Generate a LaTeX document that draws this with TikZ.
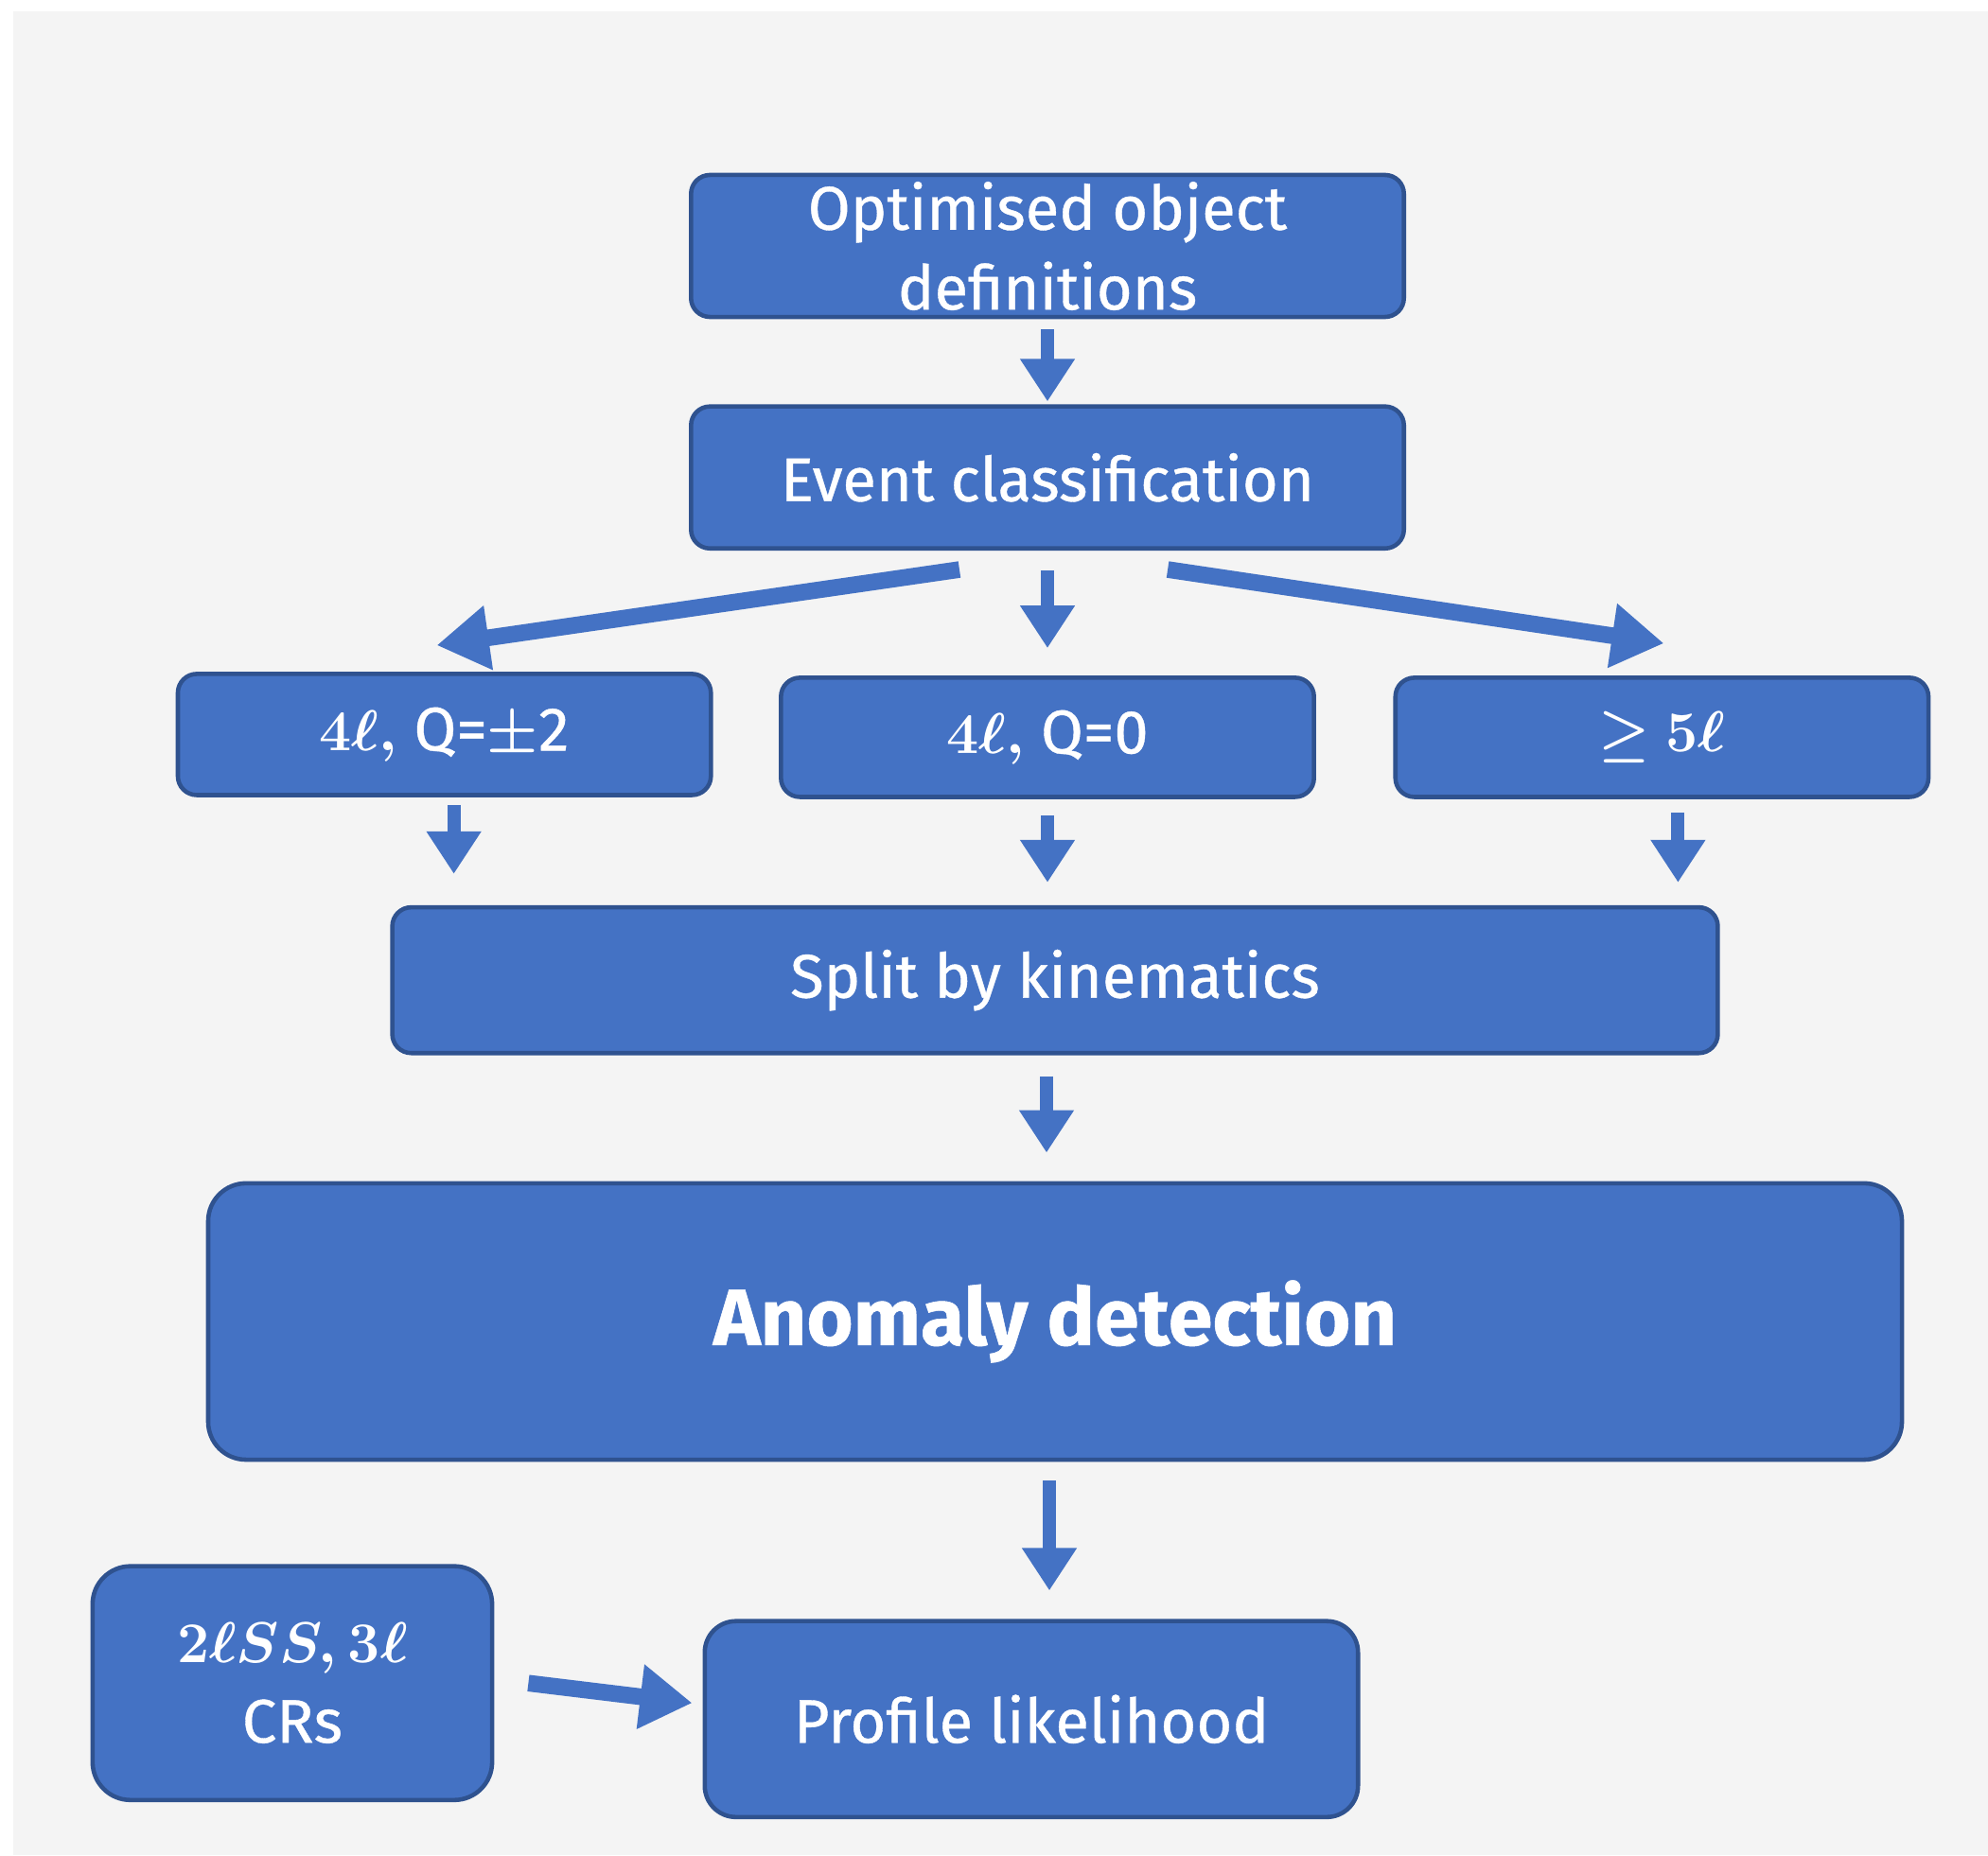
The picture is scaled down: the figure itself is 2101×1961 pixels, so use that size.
\documentclass[tikz,border=0pt]{standalone}
\usepackage{fontspec}
\setmainfont{Fira Sans}[FakeBold=0.6]
\usepackage{tikz}
\usetikzlibrary{arrows.meta,positioning}
\definecolor{Office}{HTML}{4472C4}
\definecolor{Rim}{HTML}{2F528F}
\definecolor{Canvas}{HTML}{F4F4F4}
\tikzset{
 block/.style={draw=Rim,fill=Office,line width=1.3pt,rounded corners=2mm,align=center,
   text=white,font=\fontsize{18.5}{24}\selectfont\boldmath,inner sep=0pt},
 big/.style={block,rounded corners=4mm,font=\fontsize{24}{28}\selectfont\bfseries},
 arr/.style={-{Triangle[length=4.5mm,width=5.5mm]},line width=4pt,draw=Office},
 wide/.style={arr,-{Triangle[length=5.5mm,width=6.5mm]},line width=5pt}
}

\begin{document}
\begin{tikzpicture}[x=0.01cm,y=-0.01cm,node distance=9mm]
\fill[Canvas] (14,12) rectangle (2101,1961);
\useasboundingbox (0,0) rectangle (2101,1961);
\node[block,minimum width=7.53cm,minimum height=1.5cm] (a) at (1107,260) {Optimised object\\definitions};
\node[block,minimum width=7.53cm,minimum height=1.5cm,below=of a] (b) {Event classification};
\node[block,minimum width=5.63cm,minimum height=1.28cm,below=1.28cm of b.south,xshift=-6.37cm] (c) {$4\ell,$ Q=$\pm$2};
\node[block,minimum width=5.63cm,minimum height=1.26cm,below=1.32cm of b] (d) {$4\ell,$ Q=0};
\node[block,minimum width=5.63cm,minimum height=1.26cm,below=1.32cm of b.south,xshift=6.49cm] (e) {$\geq$ $5\ell$};
\node[block,minimum width=14cm,minimum height=1.54cm,below=1.12cm of d.south,xshift=0.08cm] (f) {Split by kinematics};
\node[big,minimum width=17.89cm,minimum height=2.92cm,below=1.33cm of f] (g) {Anomaly detection};
\node[block,rounded corners=3.3mm,minimum width=6.9cm,minimum height=2.07cm,below=1.66cm of g.south,xshift=-0.25cm] (h) {Profile likelihood};
\node[block,rounded corners=4mm,minimum width=4.22cm,minimum height=2.47cm,left=2.2cm of h.west,yshift=0.38cm] (i) {$2\ell SS, 3\ell$\\CRs};
\draw[arr,shorten <=1.1mm,shorten >=0.3mm] (a)--(b);
\draw[wide] ([xshift=-9.3mm,yshift=-2mm]b.south)--([xshift=-0.8mm,yshift=2.8mm]c.north);
\draw[arr] ([yshift=-2.1mm]b.south)--([yshift=2.9mm]d.north);
\draw[wide] ([xshift=12.7mm,yshift=-2mm]b.south)--([xshift=0.2mm,yshift=3.4mm]e.north);
\draw[arr] ([xshift=1mm,yshift=-0.8mm]c.south)--([xshift=1mm,yshift=3.3mm]c.south |- f.north);
\draw[arr] ([yshift=-1.7mm]d.south)--([yshift=2.4mm]d.south |- f.north);
\draw[arr] ([xshift=1.7mm,yshift=-1.4mm]e.south)--([xshift=1.7mm,yshift=2.4mm]e.south |- f.north);
\draw[arr] ([xshift=-0.9mm,yshift=-2.2mm]f.south)--([xshift=-0.9mm,yshift=3mm]f.south |- g.north);
\draw[arr] ([xshift=-0.6mm,yshift=-2mm]g.south)--([xshift=-0.6mm,yshift=3mm]g.south |- h.north);
\draw[wide] ([xshift=3.6mm]i.east)--([xshift=-1.1mm,yshift=1.7mm]h.west);
\end{tikzpicture}
\end{document}
